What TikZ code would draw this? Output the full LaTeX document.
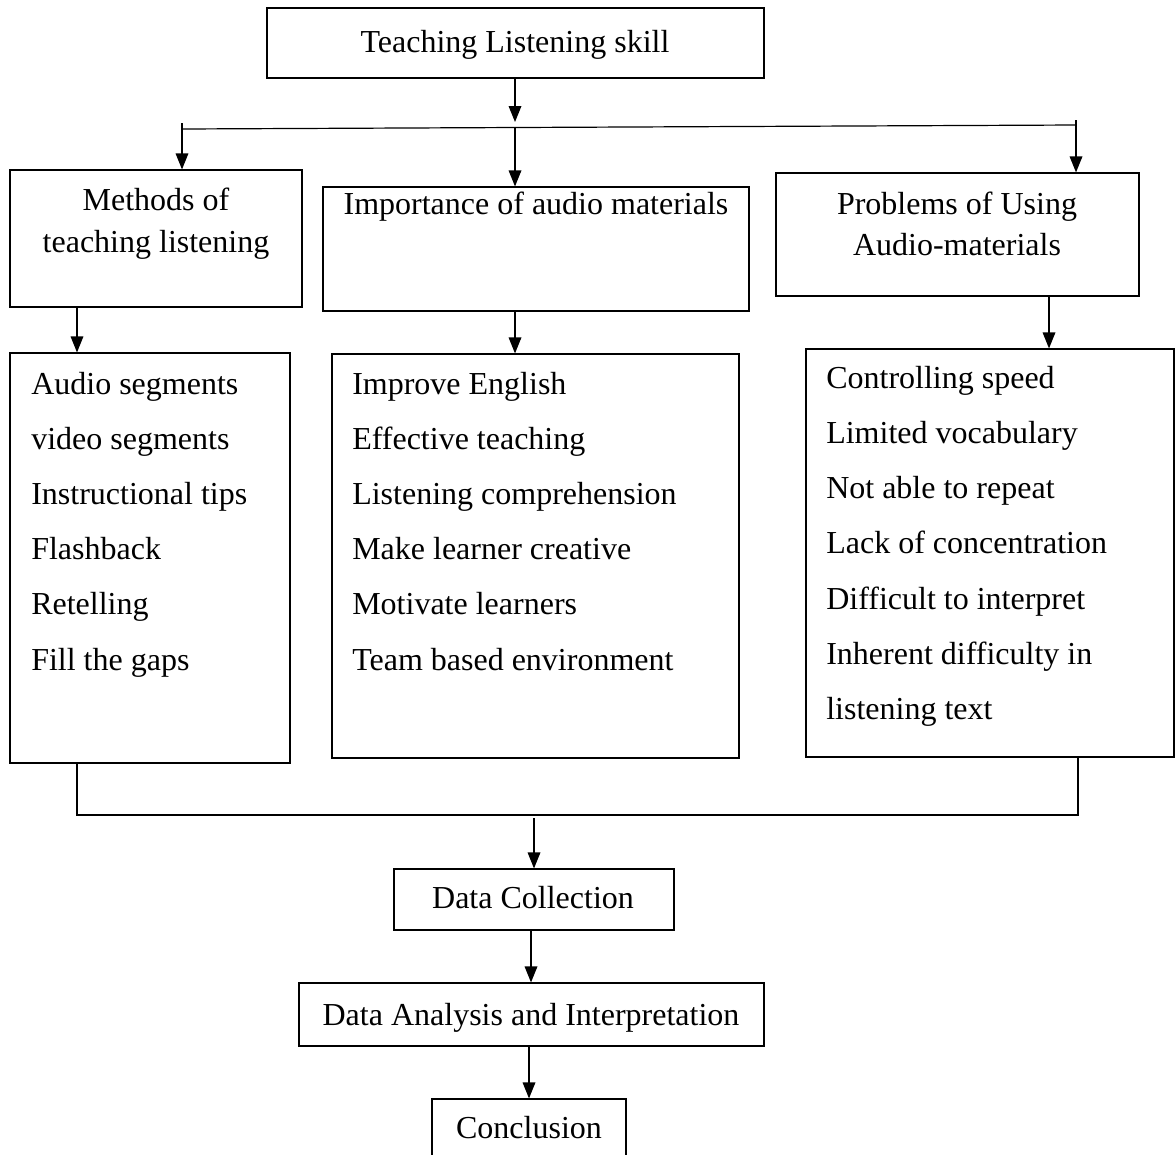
\documentclass[tikz,border=0pt]{standalone}
\usepackage{fontspec}
\setmainfont{Liberation Serif}
\usetikzlibrary{arrows.meta,fit}
\begin{document}
\begin{tikzpicture}[x=0.75pt,y=-0.75pt,
 box/.style={draw,line width=0.9pt,inner sep=0pt},
 txt/.style={inner sep=0pt,font=\fontsize{24}{29}\selectfont},
 arr/.style={line width=0.9pt,-{Triangle[length=12pt,width=9.5pt]}},
 ln/.style={line width=0.9pt}]
\useasboundingbox (0,0) rectangle (1176,1154);
\clip (0,0) rectangle (1176,1154);
% boxes
\node[box, fit={(267,8) (764,78)}] (top) {};
\node[txt, anchor=base] (toptxt) at (515,52) {Teaching Listening skill};
\node[box, fit={(10,170) (302,307)}] (meth) {};
\node[txt, anchor=base] (meth1) at (156,210) {Methods of};
\node[txt, anchor=base] (meth2) at (156,252) {teaching listening};
\node[box, fit={(323,187) (749,311)}] (imp) {};
\node[txt, anchor=base] (imp1) at (536,214) {Importance of audio materials};
\node[box, fit={(776,173) (1139,296)}] (prob) {};
\node[txt, anchor=base] (prob1) at (957,214) {Problems of Using};
\node[txt, anchor=base] (prob2) at (957,255) {Audio-materials};
% list boxes
\node[box, fit={(10,353) (290,763)}] (listL) {};
\node[box, fit={(332,354) (739,758)}] (listM) {};
\node[box, fit={(806,349) (1174,757)}] (listR) {};
\foreach \t [count=\i] in {Audio segments, video segments, Instructional tips, Flashback, Retelling, Fill the gaps}
  \node[txt, anchor=base west] (l\i) at (31,{394+55.2*(\i-1)}) {\t};
\foreach \t [count=\i] in {Improve English, Effective teaching, Listening comprehension, Make learner creative, Motivate learners, Team based environment}
  \node[txt, anchor=base west] (m\i) at (352,{394+55.2*(\i-1)}) {\t};
\foreach \t [count=\i] in {Controlling speed, Limited vocabulary, Not able to repeat, Lack of concentration, Difficult to interpret, Inherent difficulty in, listening text}
  \node[txt, anchor=base west] (r\i) at (826,{388+55.3*(\i-1)}) {\t};
% lower boxes
\node[box, fit={(394,869) (674,930)}] (dc) {};
\node[txt, anchor=base] (dctxt) at (533,908) {Data Collection};
\node[box, fit={(299,983) (764,1046)}] (da) {};
\node[txt, anchor=base] (datxt) at (531,1025) {Data Analysis and Interpretation};
\node[box, fit={(432,1099) (626,1180)}] (con) {};
\node[txt, anchor=base] (contxt) at (529,1138) {Conclusion};
% branch
\coordinate (bmt) at (515,122);
\coordinate (bl) at (182,129);
\coordinate (bm) at (515,127);
\coordinate (br) at (1076,125);
\coordinate (blt) at (182,123);
\coordinate (brt) at (1076,120);
\draw[arr] (top.south -| bmt) -- (bmt);
\draw[ln] (bl) -- (br);
\draw[ln] (blt) -- (bl);
\draw[ln] (brt) -- (br);
\draw[arr] (bl) -- (meth.north -| bl);
\draw[arr] (bm) -- (imp.north -| bm);
\draw[arr] (br) -- (prob.north -| br);
% to lists
\coordinate (xL) at (77,0);
\coordinate (xM) at (515,0);
\coordinate (xR) at (1049,0);
\draw[arr] (meth.south -| xL) -- (listL.north -| xL);
\draw[arr] (imp.south -| xM) -- (listM.north -| xM);
\draw[arr] (prob.south -| xR) -- (listR.north -| xR);
% bracket
\coordinate (jL) at (77,815);
\coordinate (jR) at (1078,815);
\coordinate (jM) at (534,818);
\draw[ln] (listL.south -| jL) -- (jL) -- (jR) -- (listR.south -| jR);
\draw[arr] (jM) -- (dc.north -| jM);
\coordinate (x2) at (531,0);
\coordinate (x3) at (529,0);
\draw[arr] (dc.south -| x2) -- (da.north -| x2);
\draw[arr] (da.south -| x3) -- (con.north -| x3);
\end{tikzpicture}
\end{document}
